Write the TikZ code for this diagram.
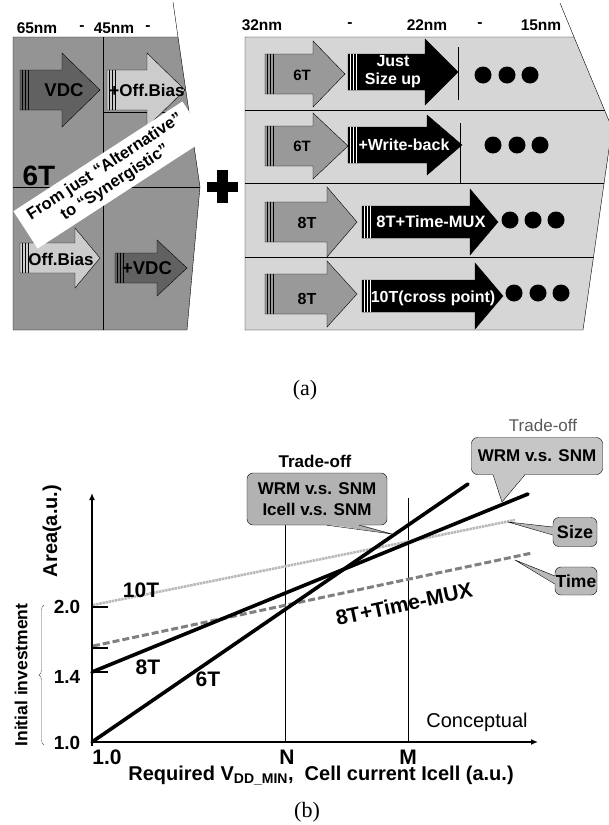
\documentclass[tikz,border=0pt]{standalone}
\usepackage{fontspec}
\setmainfont{Liberation Sans}
\newfontfamily\capfont{Liberation Serif}
\usetikzlibrary{arrows.meta}
\usetikzlibrary{decorations.pathreplacing}
\usetikzlibrary{positioning}
\definecolor{texgray}{gray}{0.35}
\definecolor{panelL}{gray}{0.58}
\definecolor{panelR}{gray}{0.84}
\definecolor{darkarrow}{gray}{0.38}
\definecolor{lightarrow}{gray}{0.8}
\definecolor{midarrow}{gray}{0.6}
\tikzset{
	lbl/.style={font=\bfseries\fontsize{#1}{#1}\selectfont, inner sep=0pt},
	plainlbl/.style={font=\fontsize{#1}{#1}\selectfont, inner sep=0pt},
	callout/.style={fill=#1, draw=black, thin, rounded corners=6pt, inner sep=3pt},
	curve/.style={line width=3.6pt, line cap=round},
}
% block arrow: style, tail x, head base x, tip x, centre y, body half, head half
\newcommand{\fatarrow}[7]{%
	\filldraw[#1] (#2,#5-#6) -- (#3,#5-#6) -- (#3,#5-#7) -- (#4,#5)
		-- (#3,#5+#7) -- (#3,#5+#6) -- (#2,#5+#6) -- cycle;}
% vertical stripes at the tail of an arrow
\newcommand{\tailstripes}[4]{%
	\foreach \s in {2,5,8}
		\draw[#4, line width=0.9pt] (#1+\s,#2-#3) -- (#1+\s,#2+#3);}

\begin{document}
\begin{tikzpicture}[x=1pt, y=-1pt]
	\useasboundingbox (0,0) rectangle (609,825);
	
	% ---------------- (a) ----------------
	% node labels on top
	\node[lbl=15.5] (n65) at (37,28) {65nm};
	\node[lbl=15.5] (d1) at (82,28) {-};
	\node[lbl=15.5] (n45) at (114,28) {45nm};
	\node[lbl=15.5] (d2) at (148,28) {-};
	\node[lbl=15.5] (n32) at (262,25) {32nm};
	\node[lbl=15.5] (d3) at (350,25) {-};
	\node[lbl=15.5] (n22) at (427,25) {22nm};
	\node[lbl=15.5] (d4) at (480,25) {-};
	\node[lbl=15.5] (n15) at (541,25) {15nm};
	
	% left panel
	\filldraw[fill=panelL, draw=black, thin] (13,37) -- (178,37) -- (200,187) -- (187,330) -- (13,330) -- cycle;
	\draw[thin] (173,2) -- (178,37);
	\begin{scope}
		\clip (13,37) -- (178,37) -- (200,187) -- (187,330) -- (13,330) -- cycle;
		\draw[thin] (103,37) -- (103,330);
		\draw[thin] (13,187) -- (205,187);
		\draw[thin] (103,112) -- (205,112);
	\end{scope}
	
	% top row
	\fatarrow{fill=darkarrow, draw=black, thin}{20}{62}{100}{90}{20}{37}
	\tailstripes{20}{90}{20}{black}
	\node[lbl=18.5] (vdc) at (64,90) {VDC};
	\fatarrow{fill=lightarrow, draw=black, thin}{107}{147}{185}{90}{20}{37}
	\tailstripes{107}{90}{20}{black}
	\node[lbl=17] (offb) at (147,90) {+Off.Bias};
	
	% bottom row
	\fatarrow{fill=lightarrow, draw=black, thin}{20}{75}{100}{258}{15}{30}
	\tailstripes{20}{258}{15}{black}
	\node[lbl=17] (offb2) at (61,259) {Off.Bias};
	\fatarrow{fill=darkarrow, draw=black, thin}{115}{157}{187}{268}{15}{28}
	\tailstripes{115}{268}{15}{black}
	\node[lbl=18.5] (vdc2) at (147,268) {+VDC};
	
	\node[lbl=28] (six) at (39,176) {6T};
	\node[fill=white, rotate=33, align=center, inner xsep=10pt, inner ysep=5pt,
		font=\bfseries\fontsize{16.5}{19}\selectfont] (banner) at (110,175)
		{From just “Alternative”\\to “Synergistic”};
	
	% plus sign
	\fill (207,182) rectangle (238,192);
	\fill (217,170) rectangle (228,203);
	
	% right panel
	\filldraw[fill=panelR, draw=black, thin] (245,37) -- (574,37) -- (612,128) -- (583,330) -- (245,330) -- cycle;
	\draw[thin] (560,3) -- (574,37);
	\begin{scope}
		\clip (245,37) -- (574,37) -- (612,128) -- (583,330) -- (245,330) -- cycle;
		\foreach \y in {110,183,257}
			\draw[thin] (245,\y) -- (615,\y);
		\draw[thin] (458,47) -- (458,100);
		\draw[thin] (460,123) -- (460,183);
	\end{scope}
	
	% row 1
	\fatarrow{fill=midarrow, draw=black, thin}{265}{313}{345}{74}{20}{33}
	\tailstripes{265}{74}{20}{black}
	\node[lbl=15] (r1a) at (302,75) {6T};
	\fatarrow{fill=black}{348}{425}{458}{72}{18}{33}
	\tailstripes{348}{72}{18}{white}
	\node[text=white, align=center, inner sep=0pt, font=\bfseries\fontsize{16}{18}\selectfont] (r1b) at (393,72) {Just\\Size up};
	\foreach \x in {483,507,530} \fill (\x,75) circle (8.5);
	
	% row 2
	\fatarrow{fill=midarrow, draw=black, thin}{265}{313}{348}{146}{20}{33}
	\tailstripes{265}{146}{20}{black}
	\node[lbl=15] (r2a) at (302,146) {6T};
	\fatarrow{fill=black}{348}{427}{462}{145}{18}{30}
	\tailstripes{348}{145}{18}{white}
	\node[lbl=16, text=white] (r2b) at (404,145) {+Write-back};
	\foreach \x in {493,517,540} \fill (\x,145) circle (8.5);
	
	% row 3
	\fatarrow{fill=midarrow, draw=black, thin}{265}{327}{357}{222}{20}{35}
	\tailstripes{265}{222}{20}{black}
	\node[lbl=16] (r3a) at (307,223) {8T};
	\fatarrow{fill=black}{362}{470}{498}{222}{16}{33}
	\tailstripes{362}{222}{16}{white}
	\node[lbl=16.5, text=white] (r3b) at (431,222) {8T+Time-MUX};
	\foreach \x in {510,533,556} \fill (\x,220) circle (8.5);
	
	% row 4
	\fatarrow{fill=midarrow, draw=black, thin}{265}{327}{357}{294}{20}{33}
	\tailstripes{265}{294}{20}{black}
	\node[lbl=16] (r4a) at (307,299) {8T};
	\fatarrow{fill=black}{362}{475}{503}{296}{16}{33}
	\tailstripes{362}{296}{16}{white}
	\node[lbl=16, text=white] (r4b) at (433,298) {10T(cross point)};
	\foreach \x in {514,538,561} \fill (\x,293) circle (8.5);
	
	\node[font=\capfont\fontsize{22}{22}\selectfont, inner sep=0pt] (capa) at (305,390) {(a)};
	
	% ---------------- (b) ----------------
	\coordinate (org) at (92,742);
	\coordinate (ytop) at (92,493);
	\coordinate (xend) at (538,742);
	
	% N and M
	\draw[thin] (285,525) -- (285,742);
	\draw[thin] (408,498) -- (408,742);
	
	% gray lines
	\coordinate (s10) at (93,605);
	\coordinate (e10) at (515,520);
	\coordinate (sMux) at (93,646);
	\coordinate (eMux) at (532,553);
	\draw[gray!55, line width=2.6pt, dash pattern=on 2.5pt off 0.7pt] (s10) -- (e10);
	\draw[gray, line width=3pt, dash pattern=on 7pt off 3pt] (sMux) -- (eMux);
	
	% 6T and 8T
	\coordinate (s6) at (92,742);
	\coordinate (e6) at (468,484);
	\coordinate (s8) at (92,672);
	\coordinate (e8) at (528,494);
	\draw[curve] (s6) -- (e6);
	\draw[curve] (s8) -- (e8);
	
	% ticks
	\foreach \y in {607,648,672}
		\draw[line width=1.2pt] (92,\y) -- (108,\y);
	
	% axes
	\draw[line width=2.2pt, -{Latex[length=7pt,width=6pt]}] (92,746) -- (ytop);
	\draw[line width=2.2pt, -{Latex[length=7pt,width=6pt]}] (org) -- (xend);
	
	\node[lbl=19] (y20) at (67,607) {2.0};
	\node[lbl=19] (y14) at (67,677) {1.4};
	\node[lbl=19] (y10) at (67,743) {1.0};
	\node[lbl=20, rotate=90] (area) at (52,531) {Area(a.u.)};
	\node[lbl=17.5, rotate=90] (invest) at (21,675) {Initial investment};
	\draw[gray!70!black, decorate, decoration={brace, amplitude=5pt}] (44,745) -- (44,605);
	
	\node[lbl=21] (x10) at (107,757) {1.0};
	\node[lbl=21] (xN) at (287,757) {N};
	\node[lbl=21] (xM) at (408,757) {M};
	\node[lbl=20] (xlab) at (321,776) {Required V\textsubscript{DD\_MIN}, \ Cell current Icell (a.u.)};
	\node[plainlbl=20] (concept) at (477,722) {Conceptual};
	
	\node[lbl=21] (t10) at (141,590) {10T};
	\node[lbl=21] (t8) at (148,667) {8T};
	\node[lbl=21] (t6) at (208,679) {6T};
	\node[lbl=21, rotate=12] (tmux) at (404,604) {8T+Time-MUX};
	
	% trade-off callouts
	\node[lbl=17] (toffL) at (315,461) {Trade-off};
	\node[callout=gray!60, align=center, minimum width=140pt, minimum height=52pt,
		font=\bfseries\fontsize{17}{21}\selectfont] (boxL) at (317,499) {WRM v.s. SNM\\Icell v.s. SNM};
	\coordinate (tipL) at (392,534);
	\fill[gray!60] ([xshift=10pt,yshift=1pt]boxL.south) -- (tipL) -- ([xshift=42pt,yshift=1pt]boxL.south) -- cycle;
	\draw[thin] ([xshift=10pt]boxL.south) -- (tipL) -- ([xshift=42pt]boxL.south);
	
	\node[plainlbl=17, text=texgray] (toffR) at (543,425) {Trade-off};
	\node[callout=gray!45, minimum width=131pt, minimum height=37pt, lbl=17] (boxR) at (537,456) {WRM v.s. SNM};
	\coordinate (tipR) at (502,502);
	\fill[gray!45] ([xshift=-44pt,yshift=1pt]boxR.south) -- (tipR) -- ([xshift=-12pt,yshift=1pt]boxR.south) -- cycle;
	\draw[thin] ([xshift=-44pt]boxR.south) -- (tipR) -- ([xshift=-12pt]boxR.south);
	
	\node[callout=gray!55, minimum width=44pt, minimum height=29pt, lbl=18] (size) at (575,532) {Size};
	\coordinate (tipS) at (508,522);
	\fill[gray!55] ([xshift=1pt,yshift=5pt]size.west) -- (tipS) -- ([xshift=1pt,yshift=-3pt]size.west) -- cycle;
	\draw[thin] ([yshift=5pt]size.west) -- (tipS) -- ([yshift=-3pt]size.west);
	
	\node[callout=gray!55, minimum width=42pt, minimum height=28pt, lbl=17.5] (time) at (576,581) {Time};
	\coordinate (tipT) at (515,560);
	\fill[gray!55] ([xshift=1pt,yshift=5pt]time.west) -- (tipT) -- ([xshift=1pt,yshift=-3pt]time.west) -- cycle;
	\draw[thin] ([yshift=5pt]time.west) -- (tipT) -- ([yshift=-3pt]time.west);
	
	\node[font=\capfont\fontsize{22}{22}\selectfont, inner sep=0pt] (capb) at (307,812) {(b)};
\end{tikzpicture}
\end{document}
